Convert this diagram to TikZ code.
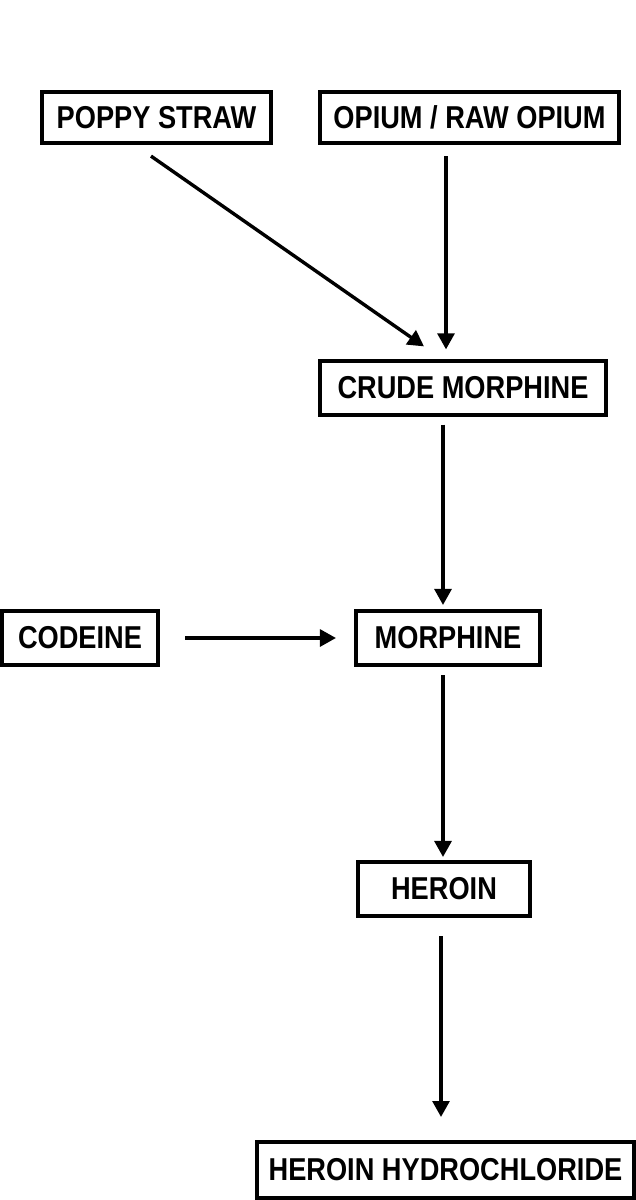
\documentclass[tikz,border=0pt]{standalone}
\usepackage{fontspec}
\setmainfont{Liberation Sans}[FakeStretch=0.86]
\usetikzlibrary{
  arrows.meta,
  positioning,
  calc}
\tikzset{every picture/.style={font issue=\fontsize{22.5}{27}\bfseries},
         font issue/.style={execute at begin picture={#1\selectfont}}
        }

\begin{document}
\begin{tikzpicture}[x=0.025cm, y=-0.025cm,
  stagebox/.style={draw, line width=0.1cm, inner sep=0pt, minimum height=1.33cm},
  flow/.style={line width=0.085cm, -{Triangle[length=0.4cm, width=0.42cm]}}]
\useasboundingbox (0,0) rectangle (636,1200);
\node[stagebox, minimum width=5.72cm, minimum height=1.28cm] (poppy) at (156.5,117.5) {POPPY STRAW};
\node[stagebox, minimum width=7.47cm, minimum height=1.28cm] (opium) at (469.5,117.5) {OPIUM / RAW OPIUM};
\node[stagebox, minimum width=7.15cm] (crude) at (463,388) {CRUDE MORPHINE};
\node[stagebox, minimum width=3.9cm, minimum height=1.35cm] (codeine) at (80,638) {CODEINE};
\node[stagebox, minimum width=4.6cm, minimum height=1.35cm] (morph) at (448,638) {MORPHINE};
\node[stagebox, minimum width=4.28cm, minimum height=1.35cm] (heroin) at (444,889) {HEROIN};
\node[stagebox, minimum width=9.43cm, minimum height=1.4cm] (hcl) at (445.5,1170) {HEROIN HYDROCHLORIDE};
\draw[flow] ($(poppy.south)+(-5.5,11)$) -- ($(crude.north)+(-39,-13)$);
\draw[flow] ($(opium.south)+(-23.5,11)$) -- ($(crude.north)+(-17,-10)$);
\draw[flow] ($(crude.south)+(-20,8)$) -- ($(morph.north)+(-5,-4)$);
\draw[flow] ($(codeine.east)+(25,0)$) -- ($(morph.west)+(-18,0)$);
\draw[flow] ($(morph.south)+(-5,8)$) -- ($(heroin.north)+(-1,-3)$);
\draw[flow] ($(heroin.south)+(-3,18)$) -- ($(hcl.north)+(-4.5,-23)$);
\end{tikzpicture}
\end{document}
